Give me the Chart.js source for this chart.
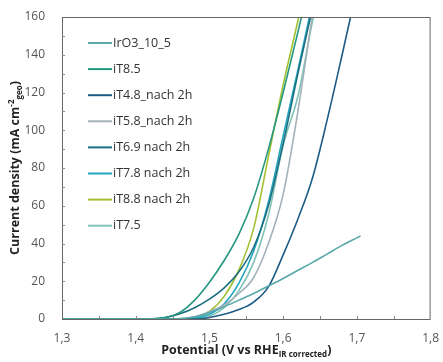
<!DOCTYPE html>
<html lang="de">
<head>
  <meta charset="UTF-8">
  <title>Current density vs potential</title>
  <script src="https://cdn.jsdelivr.net/npm/chart.js"></script>
  <style>
    body { margin: 0; background: #fff; }
    #wrap { width: 443px; height: 362px; }
  </style>
</head>
<body>
<div id="wrap"><canvas id="lsvChart" width="443" height="362"></canvas></div>
<script>
  // potential grid (V vs RHE), shared by all curves
  const potential = [1.30, 1.40, 1.44, 1.46, 1.48, 1.50, 1.52, 1.54, 1.56, 1.58, 1.60, 1.62, 1.64, 1.66, 1.68, 1.70, 1.705];

  // current density (mA cm-2 geo), null where the curve has ended
  const irO3     = [0, 0, 0, 0.2, 1.2, 3.5, 6.5, 10, 13.5, 17.5, 21.5, 25.8, 30, 34.5, 39, 43, 44];
  const iT85     = [0, 0, 0.8, 3.5, 10, 19.5, 31, 45, 64, 90, 120, 152, 185, null, null, null, null];
  const iT48     = [0, 0, 0, 0, 0, 0.8, 2.5, 5, 9, 17, 34, 53, 75, 106, 140, 175, null];
  const iT58     = [0, 0, 0, 0, 1.2, 4, 7.5, 13.5, 22, 40, 66, 110, 162, null, null, null, null];
  const iT69     = [0, 0, 0.8, 2.8, 6, 10.5, 16.5, 25, 38, 60, 93, 130, 165, null, null, null, null];
  const iT78     = [0, 0, 0, 0, 0.5, 2.5, 8, 19, 36, 62, 97, 132, 168, null, null, null, null];
  const iT88     = [0, 0, 0, 0, 0.5, 4, 12, 26, 48, 86, 124, 158, 195, null, null, null, null];
  const iT75     = [0, 0, 0, 0, 0.3, 1.5, 6, 15, 30, 55, 92, 118, 158, 190, null, null, null];

  const seriesNames = ['IrO3_10_5', 'iT8.5', 'iT4.8_nach 2h', 'iT5.8_nach 2h', 'iT6.9 nach 2h', 'iT7.8 nach 2h', 'iT8.8 nach 2h', 'iT7.5'];
  const seriesData = [irO3, iT85, iT48, iT58, iT69, iT78, iT88, iT75];
  const seriesColors = ['#5aa8ab', '#23977f', '#1d5c86', '#a3b1ba', '#1b6f80', '#22a6bf', '#a2c132', '#80c2b6'];

  const xTicks = [1.3, 1.4, 1.5, 1.6, 1.7, 1.8];

  const FONT = "'Open Sans', 'DejaVu Sans', sans-serif";

  // frame, inward ticks, legend and axis titles with sub/superscripts
  const decorations = {
    id: 'decorations',
    afterDraw(chart) {
      const { ctx, chartArea: a, scales } = chart;
      ctx.save();
      ctx.strokeStyle = '#666';
      ctx.lineWidth = 1;
      ctx.strokeRect(a.left + 0.5, a.top + 0.5, a.right - a.left - 1, a.bottom - a.top);

      // inward ticks
      ctx.strokeStyle = '#888';
      ctx.beginPath();
      for (let v = 1.35; v < 1.8; v += 0.05) {
        const px = Math.round(scales.x.getPixelForValue(v)) + 0.5;
        ctx.moveTo(px, a.bottom);
        ctx.lineTo(px, a.bottom - 3);
      }
      for (let v = 10; v < 160; v += 10) {
        const py = Math.round(scales.y.getPixelForValue(v)) + 0.5;
        ctx.moveTo(a.left, py);
        ctx.lineTo(a.left + 3, py);
      }
      ctx.stroke();

      // legend
      ctx.font = '12.5px ' + FONT;
      ctx.textBaseline = 'middle';
      ctx.lineWidth = 2;
      seriesNames.forEach((name, i) => {
        const y = 43 + i * 26.1;
        ctx.strokeStyle = seriesColors[i];
        ctx.beginPath();
        ctx.moveTo(88, y);
        ctx.lineTo(112, y);
        ctx.stroke();
        ctx.fillStyle = '#333';
        ctx.fillText(name, 113, y);
      });

      // x title
      ctx.fillStyle = '#222';
      ctx.textBaseline = 'alphabetic';
      const bold = 'bold 12.5px ' + FONT;
      const small = 'bold 8px ' + FONT;
      const parts = [['Potential (V vs RHE', bold, 0], ['IR corrected', small, 3], [')', bold, 0]];
      let w = 0;
      parts.forEach(p => { ctx.font = p[1]; w += ctx.measureText(p[0]).width; });
      let x = (a.left + a.right) / 2 - w / 2;
      parts.forEach(p => {
        ctx.font = p[1];
        ctx.fillText(p[0], x, 354 + p[2]);
        x += ctx.measureText(p[0]).width;
      });

      // y title
      ctx.translate(19, (a.top + a.bottom) / 2);
      ctx.rotate(-Math.PI / 2);
      const yparts = [['Current density (mA cm', bold, 0], ['-2', small, -5], ['geo', small, 3], [')', bold, 0]];
      w = 0;
      yparts.forEach(p => { ctx.font = p[1]; w += ctx.measureText(p[0]).width; });
      x = -w / 2;
      yparts.forEach(p => {
        ctx.font = p[1];
        ctx.fillText(p[0], x, p[2]);
        x += ctx.measureText(p[0]).width;
      });
      ctx.restore();
    }
  };

  const ctx = document.getElementById('lsvChart').getContext('2d');
  new Chart(ctx, {
    type: 'line',
    data: {
      labels: potential,
      datasets: seriesNames.map((name, i) => ({
        label: name,
        data: seriesData[i].map((v, j) => ({ x: potential[j], y: v })).filter(p => p.y !== null),
        borderColor: seriesColors[i],
        backgroundColor: seriesColors[i],
        borderWidth: 1.6,
        pointRadius: 0,
        cubicInterpolationMode: 'monotone',
        fill: false
      }))
    },
    options: {
      responsive: false,
      animation: false,
      layout: { padding: { top: 17, right: 8, left: 0, bottom: 0 } },
      plugins: { legend: { display: false }, tooltip: { enabled: false } },
      scales: {
        x: {
          type: 'linear',
          min: 1.3,
          max: 1.8,
          afterBuildTicks: s => { s.ticks = xTicks.map(v => ({ value: v })); },
          afterFit: s => { s.height = 43; },
          grid: { display: false },
          border: { display: false },
          ticks: {
            font: { size: 12, family: FONT },
            color: '#555',
            padding: 4,
            maxRotation: 0,
            callback: v => v.toFixed(1).replace('.', ',')
          }
        },
        y: {
          min: 0,
          max: 160,
          afterFit: s => { s.width = 62; },
          grid: { display: false },
          border: { display: false },
          ticks: {
            stepSize: 20,
            font: { size: 12, family: FONT },
            color: '#555',
            padding: 9
          }
        }
      }
    },
    plugins: [decorations]
  });
</script>
</body>
</html>
